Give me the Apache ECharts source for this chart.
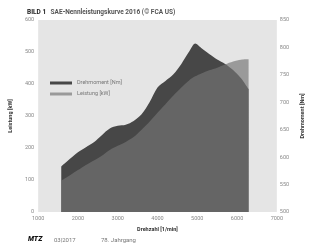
<!DOCTYPE html>
<html>
<head>
<meta charset="utf-8">
<script src="https://cdn.jsdelivr.net/npm/echarts@6/dist/echarts.min.js"></script>
<style>
  html, body { margin: 0; padding: 0; background: #fff; }
  #chart { width: 314px; height: 250px; }
</style>
</head>
<body>
<div id="chart"></div>
<script>
// Drehzahl in 1/min
var rpm = [1580, 1800, 2000, 2200, 2400, 2600, 2800, 3000, 3200, 3400, 3600, 3800, 4000,
	4200, 4400, 4600, 4800, 4950, 5100, 5300, 5500, 5700, 5900, 6100, 6290];
// Drehmoment in Nm (rechte Achse)
var torque = [583, 597, 609, 618, 627, 640, 652, 657, 659, 666, 678, 700, 727,
	739, 751, 770, 793, 807, 799, 788, 778, 770, 759, 744, 724];
// Leistung in kW (linke Achse)
var power = [98, 115, 131, 147, 161, 176, 194, 207, 219, 234, 257, 282, 310,
	337, 364, 389, 412, 424, 433, 443, 451, 461, 470, 476, 477];

var font = 'Roboto';

function pairs(xs, ys) {
	var res = [];
	for (var i = 0; i < xs.length; i++) res.push([xs[i], ys[i]]);
	return res;
}

function plain(v) {
	return String(v); // keine Tausendertrennzeichen
}

var myChart = echarts.init(document.getElementById('chart'));
var option = {
	backgroundColor: '#fff',
	animation: false,
	textStyle: { fontFamily: font },
	title: {
		left: 27,
		top: 3,
		padding: 0,
		text: '{b|BILD 1} {n|SAE-Nennleistungskurve 2016 (© FCA US)}',
		textStyle: {
			rich: {
				b: { fontFamily: font, fontWeight: 'bold', fontSize: 6.5, lineHeight: 8, color: '#222' },
				n: { fontFamily: font, fontSize: 6.5, lineHeight: 8, color: '#555' }
			}
		}
	},
	legend: {
		orient: 'vertical',
		left: 45,
		top: 75,
		itemWidth: 22,
		itemHeight: 3,
		itemGap: 5,
		icon: 'rect',
		itemStyle: { borderWidth: 0 },
		textStyle: { fontFamily: font, fontSize: 5.5, color: '#777' },
		data: [
			{ name: 'Drehmoment [Nm]', itemStyle: { color: '#474747', opacity: 1, borderWidth: 0 } },
			{ name: 'Leistung [kW]', itemStyle: { color: '#9a9a9a', opacity: 1, borderWidth: 0 } }
		]
	},
	grid: {
		left: 29,
		right: 35,
		top: 20,
		bottom: 38,
		show: true,
		backgroundColor: '#e5e5e5',
		borderWidth: 0
	},
	xAxis: {
		type: 'value',
		min: 1000,
		max: 7000,
		interval: 1000,
		name: 'Drehzahl [1/min]',
		nameLocation: 'middle',
		nameGap: 14,
		nameTextStyle: { fontFamily: font, fontSize: 5.5, fontWeight: 'bold', color: '#333' },
		axisLine: { show: false },
		axisTick: { show: false },
		splitLine: { show: false },
		axisLabel: { fontFamily: font, fontSize: 5.5, color: '#888', margin: 4, formatter: plain }
	},
	yAxis: [
		{
			type: 'value',
			min: 0,
			max: 600,
			interval: 100,
			name: 'Leistung [kW]',
			nameLocation: 'middle',
			nameGap: 21,
			nameTextStyle: { fontFamily: font, fontSize: 5.5, fontWeight: 'bold', color: '#333' },
			axisLine: { show: false },
			axisTick: { show: false },
			splitLine: { show: false },
			axisLabel: { fontFamily: font, fontSize: 5.5, color: '#888', margin: 4, formatter: plain }
		},
		{
			type: 'value',
			min: 500,
			max: 850,
			interval: 50,
			position: 'right',
			name: 'Drehmoment [Nm]',
			nameLocation: 'middle',
			nameGap: 21,
			nameTextStyle: { fontFamily: font, fontSize: 5.5, fontWeight: 'bold', color: '#333' },
			axisLine: { show: false },
			axisTick: { show: false },
			splitLine: { show: false },
			axisLabel: { fontFamily: font, fontSize: 5.5, color: '#888', margin: 3, formatter: plain }
		}
	],
	series: [
		{
			name: 'Drehmoment [Nm]',
			type: 'line',
			yAxisIndex: 1,
			smooth: 0.3,
			showSymbol: false,
			color: '#474747',
			lineStyle: { width: 0 },
			areaStyle: { color: '#474747', opacity: 1, origin: 'start' },
			data: pairs(rpm, torque)
		},
		{
			name: 'Leistung [kW]',
			type: 'line',
			yAxisIndex: 0,
			smooth: 0.3,
			showSymbol: false,
			color: '#757575',
			lineStyle: { width: 0 },
			areaStyle: { color: '#757575', opacity: 0.67, origin: 'start' },
			data: pairs(rpm, power)
		}
	],
	graphic: [
		{
			type: 'text', left: 28, top: 236,
			style: { text: 'MTZ', font: 'italic 900 7px ' + font, fill: '#111' }
		},
		{
			type: 'text', left: 54, top: 237,
			style: { text: '03|2017', font: '6px ' + font, fill: '#777' }
		},
		{
			type: 'text', left: 101, top: 237,
			style: { text: '78. Jahrgang', font: '6px ' + font, fill: '#777' }
		}
	]
};
myChart.setOption(option);
</script>
</body>
</html>
